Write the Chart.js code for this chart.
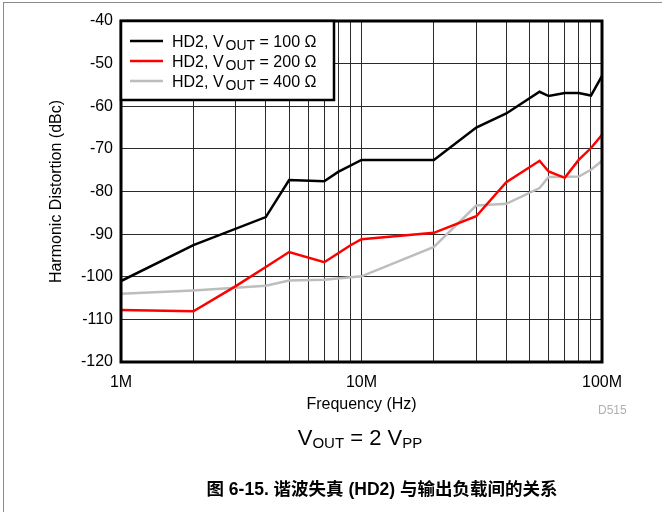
<!DOCTYPE html>
<html>
<head>
<meta charset="utf-8">
<script src="https://cdn.jsdelivr.net/npm/chart.js@4/dist/chart.umd.min.js"></script>
<style>
  html, body { margin:0; padding:0; background:#fff; }
  body { width:662px; height:512px; position:relative; overflow:hidden; font-family:"Liberation Sans", Arial, sans-serif; }
  #wrap { position:absolute; left:0; top:0; width:662px; height:512px; }
  .frameTop { position:absolute; left:3px; top:2px; width:659px; height:0; border-top:1.5px solid #8a8a8a; }
  .frameLeft { position:absolute; left:3px; top:2px; width:0; height:510px; border-left:1.5px solid #8a8a8a; }
  #code { position:absolute; left:598px; top:403px; font-size:12px; color:#b0b0b0; }
  #cond { position:absolute; left:0; width:720px; top:425px; text-align:center; font-size:22px; color:#000; }
  #cond sub { font-size:15px; vertical-align:-3px; }
  #caption { position:absolute; left:0; width:764px; top:475px; text-align:center; font-size:17.5px; font-weight:bold; color:#000; font-family:"Liberation Sans", "Noto Sans CJK SC", sans-serif; }
</style>
</head>
<body>
<div class="frameTop"></div>
<div class="frameLeft"></div>
<div id="wrap"><canvas id="c" width="662" height="512"></canvas></div>
<div id="code">D515</div>
<div id="cond">V<sub>OUT</sub> = 2 V<sub>PP</sub></div>
<div id="caption">图 6-15. 谐波失真 (HD2) 与输出负载间的关系</div>
<script>
// ---- data ----
const freq100 = [1e6, 2e6, 4e6, 5e6, 7e6, 8e6, 10e6, 20e6, 30e6, 40e6, 55e6, 60e6, 70e6, 80e6, 90e6, 100e6];
const hd100   = [-101.0, -92.6, -86.0, -77.3, -77.6, -75.4, -72.6, -72.6, -65.0, -61.7, -56.6, -57.6, -56.9, -56.9, -57.5, -52.9];

const freq200 = [1e6, 2e6, 3e6, 4e6, 5e6, 7e6, 8e6, 9e6, 10e6, 20e6, 30e6, 40e6, 55e6, 60e6, 70e6, 80e6, 90e6, 100e6];
const hd200   = [-107.8, -108.1, -102.2, -97.7, -94.2, -96.6, -94.5, -92.6, -91.2, -89.7, -85.8, -77.8, -72.8, -75.3, -76.8, -72.6, -69.8, -66.7];

const freq400 = [1e6, 2e6, 4e6, 5e6, 7e6, 10e6, 20e6, 30e6, 40e6, 55e6, 60e6, 80e6, 90e6, 100e6];
const hd400   = [-104.0, -103.2, -102.1, -100.9, -100.7, -99.9, -93.0, -83.3, -82.9, -79.2, -76.6, -76.5, -74.9, -72.8];

const seriesLoads = ['100 Ω', '200 Ω', '400 Ω'];
const seriesColors = ['#000000', '#ff0000', '#bdbdbd'];

const xTickValues = [1e6,2e6,3e6,4e6,5e6,6e6,7e6,8e6,9e6,1e7,2e7,3e7,4e7,5e7,6e7,7e7,8e7,9e7,1e8];
const xTickLabels = {1e6:'1M', 1e7:'10M', 1e8:'100M'};
const yMin = -120, yMax = -40, yStep = 10;

const toPts = (xs, ys) => xs.map((x, i) => ({x: x, y: ys[i]}));
const FONT = '"Liberation Sans", Arial, sans-serif';

const legendPlugin = {
  id: 'customLegend',
  afterDatasetsDraw(chart) {
    const ctx = chart.ctx, a = chart.chartArea;
    ctx.save();
    // plot border
    ctx.lineWidth = 3;
    ctx.strokeStyle = '#000';
    ctx.strokeRect(a.left, a.top, a.right - a.left, a.bottom - a.top);
    // legend box
    const bx = a.left, by = a.top, bw = 213, bh = 79;
    ctx.fillStyle = '#fff';
    ctx.fillRect(bx, by, bw, bh);
    ctx.lineWidth = 2.5;
    ctx.strokeRect(bx, by, bw, bh);
    ctx.textBaseline = 'alphabetic';
    chart.data.datasets.forEach((ds, i) => {
      const y = by + 20 + i * 20;
      ctx.strokeStyle = ds.borderColor;
      ctx.lineWidth = 2.5;
      ctx.beginPath();
      ctx.moveTo(bx + 9, y);
      ctx.lineTo(bx + 42, y);
      ctx.stroke();
      ctx.fillStyle = '#000';
      let tx = bx + 51;
      const base = y + 6;
      ctx.font = '16px ' + FONT;
      ctx.fillText('HD2, V', tx, base);
      tx += ctx.measureText('HD2, V').width + 2;
      ctx.font = '14px ' + FONT;
      ctx.fillText('OUT', tx, base + 3);
      tx += ctx.measureText('OUT').width;
      ctx.font = '16px ' + FONT;
      ctx.fillText(' = ' + seriesLoads[i], tx, base);
    });
    ctx.restore();
  }
};

new Chart(document.getElementById('c'), {
  type: 'scatter',
  data: {
    datasets: [
      { label: 'HD2, VOUT = ' + seriesLoads[0], data: toPts(freq100, hd100), borderColor: seriesColors[0], backgroundColor: seriesColors[0] },
      { label: 'HD2, VOUT = ' + seriesLoads[1], data: toPts(freq200, hd200), borderColor: seriesColors[1], backgroundColor: seriesColors[1] },
      { label: 'HD2, VOUT = ' + seriesLoads[2], data: toPts(freq400, hd400), borderColor: seriesColors[2], backgroundColor: seriesColors[2] }
    ].map(d => Object.assign(d, { showLine: true, pointRadius: 0, borderWidth: 2.5, tension: 0, fill: false }))
  },
  options: {
    responsive: false,
    animation: false,
    devicePixelRatio: 1,
    layout: { padding: { left: 0, top: 21, right: 60, bottom: 0 } },
    plugins: { legend: { display: false }, tooltip: { enabled: false } },
    scales: {
      x: {
        type: 'logarithmic',
        min: 1e6, max: 1e8,
        afterBuildTicks(scale) { scale.ticks = xTickValues.map(v => ({ value: v })); },
        afterFit(scale) { scale.height = 150; },
        ticks: {
          autoSkip: false, maxRotation: 0, padding: 11,
          color: '#000', font: { family: FONT, size: 16 },
          callback: (v) => xTickLabels[v] || ''
        },
        grid: { color: '#2a2a2a', lineWidth: 1, drawTicks: false },
        border: { display: false },
        title: { display: true, text: 'Frequency (Hz)', color: '#000', font: { family: FONT, size: 16 }, padding: { top: 0, bottom: 98 } }
      },
      y: {
        min: yMin, max: yMax,
        afterFit(scale) { scale.width = 121; },
        ticks: { stepSize: yStep, padding: 8, color: '#000', font: { family: FONT, size: 16 } },
        grid: { color: '#2a2a2a', lineWidth: 1, drawTicks: false },
        border: { display: false },
        title: { display: true, text: 'Harmonic Distortion (dBc)', color: '#000', font: { family: FONT, size: 16 }, padding: { top: 47, bottom: 0 } }
      }
    }
  },
  plugins: [legendPlugin]
});
</script>
</body>
</html>
